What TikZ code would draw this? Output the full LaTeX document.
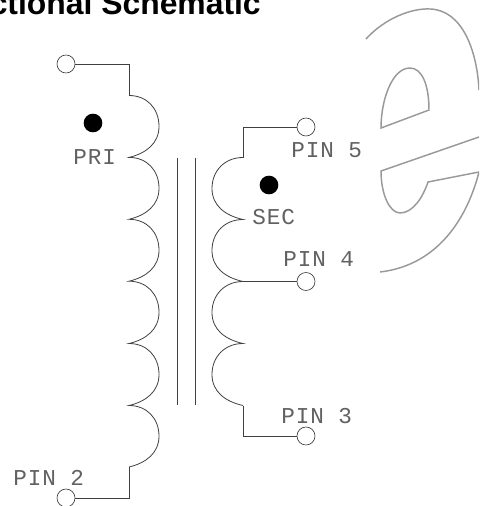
\documentclass[tikz,border=0pt]{standalone}
\usepackage{fontspec}
\setmainfont{Liberation Sans}
\newfontfamily\cadfont[LetterSpace=4]{Liberation Mono}
\tikzset{
  x=0.75pt,y=-0.75pt,
  wire/.style={draw=black!75,line width=0.6pt},
  logo/.style={draw=black!40,line width=1.1pt},
  term/.style={circle,draw=black!75,line width=0.5pt,fill=white,minimum size=13.5pt,inner sep=0pt},
  dotmark/.style={circle,fill=black,minimum size=14pt,inner sep=0pt},
  cad/.style={font=\cadfont\fontsize{17}{17}\selectfont,text=black!62,inner sep=0pt,anchor=base west},
}
\begin{document}
\begin{tikzpicture}
\useasboundingbox (0,0) rectangle (479,506);
\begin{scope}
\clip (0,0) rectangle (479,506);
\node[font=\bfseries\fontsize{23.9}{23.9}\selectfont,anchor=base east,inner sep=0pt] (title) at (261,15) {ctional Schematic};
% logo
\draw[logo] (366,39) .. controls (385,18) and (412,8) .. (430,9) .. controls (462,10) and (477,50) .. (479,90);
\draw[logo] (381,128) .. controls (381,100) and (392,68) .. (410,68) .. controls (422,68) and (429,85) .. (429,110) -- cycle;
\draw[logo] (479,137) -- (381,171) .. controls (381,195) and (390,213) .. (400,213) .. controls (413,213) and (423,197) .. (428,182) -- (479,172) .. controls (468,215) and (440,265) .. (380,272);
% terminals
\node[term] (t1) at (66,64) {};
\node[term] (t2) at (66,498) {};
\node[term] (t5) at (306,127) {};
\node[term] (t4) at (306,281.5) {};
\node[term] (t3) at (306,436) {};
\coordinate (p0) at (129,95.5);
\coordinate (p6) at (129,467);
\coordinate (s0) at (243,157.5);
\coordinate (s2) at (243,281.5);
\coordinate (s4) at (243,405.5);
\draw[wire] (t1.east) -| (p0);
\draw[wire] (t2.east) -| (p6);
\draw[wire] (t5.west) -| (s0);
\draw[wire] (t4.west) -- (s2);
\draw[wire] (t3.west) -| (s4);
% primary
\draw[wire] (p0) \foreach \a/\b in {95.5/157.4,157.4/219.3,219.3/281.2,281.2/343.5,343.5/405.5,405.5/467}{
  .. controls (147,\a) and (159,\a+13) .. (159,{(\a+\b)/2}) .. controls (159,\b-14) and (146,\b-4) .. (129,\b)};
% secondary
\draw[wire] (s0) \foreach \a/\b in {157.5/219.5,219.5/281.5,281.5/343.5,343.5/405.5}{
  .. controls (225,\a) and (212,\a+13) .. (212,{(\a+\b)/2}) .. controls (212,\b-14) and (225,\b-4) .. (243,\b)};
% core
\coordinate (c1) at (177,158); \coordinate (c2) at (177,405);
\coordinate (c3) at (195,158); \coordinate (c4) at (195,405);
\draw[wire] (c1) -- (c2);
\draw[wire] (c3) -- (c4);
\node[dotmark] (d1) at (93,123) {};
\node[dotmark] (d2) at (269,185) {};
\node[cad] (lpri) at (73,164) {PRI};
\node[cad] (lsec) at (252,224) {SEC};
\node[cad] (l5) at (291,157) {PIN 5};
\node[cad] (l4) at (283,266) {PIN 4};
\node[cad] (l3) at (281,423) {PIN 3};
\node[cad] (l2) at (13,485) {PIN 2};
\end{scope}
\end{tikzpicture}
\end{document}
